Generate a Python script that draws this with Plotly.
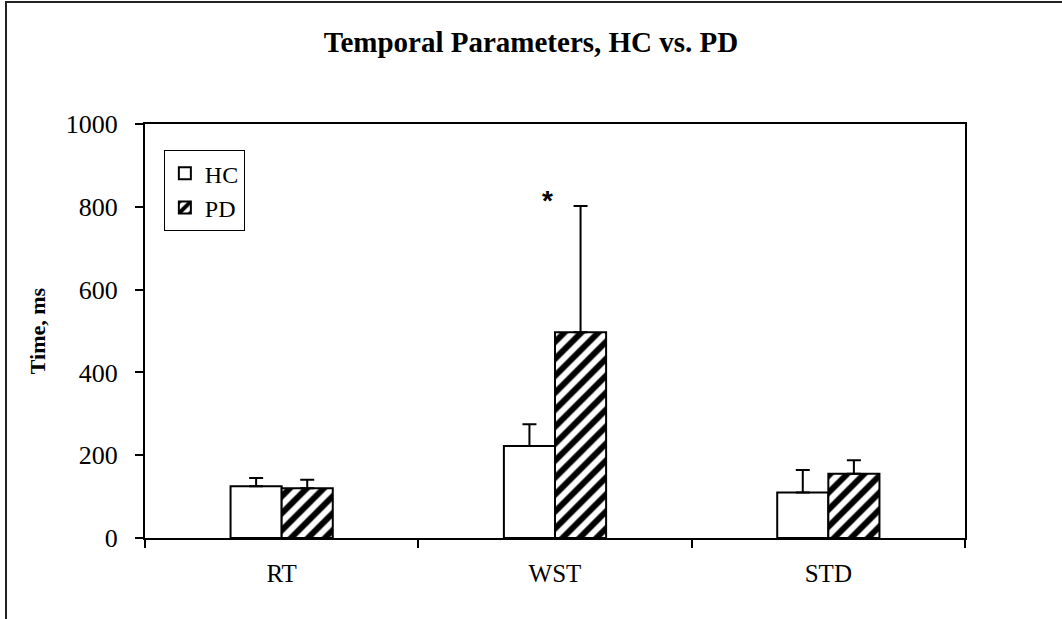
import plotly.graph_objects as go

categories = ["RT", "WST", "STD"]
hc_values = [125, 222, 110]
hc_errors = [20, 53, 54]
pd_values = [120, 497, 155]
pd_errors = [21, 305, 33]
y_ticks = [0, 200, 400, 600, 800, 1000]

SERIF = "Liberation Serif, Times New Roman, serif"

fig = go.Figure()
fig.add_trace(go.Bar(
    name="HC", x=categories, y=hc_values,
    marker=dict(color="white", line=dict(color="black", width=2)),
    error_y=dict(type="data", symmetric=False, array=hc_errors,
                 arrayminus=[0] * len(hc_errors), color="black",
                 thickness=2, width=7),
))
fig.add_trace(go.Bar(
    name="PD", x=categories, y=pd_values,
    marker=dict(color="white", line=dict(color="black", width=2),
                pattern=dict(shape="/", fgcolor="black", bgcolor="white",
                             fgopacity=1, size=12, solidity=0.5)),
    error_y=dict(type="data", symmetric=False, array=pd_errors,
                 arrayminus=[0] * len(pd_errors), color="black",
                 thickness=2, width=7),
))

fig.add_annotation(x="WST", y=824, text="<b>*</b>", showarrow=False,
                   xshift=-8, yshift=-4, yanchor="middle",
                   font=dict(family="Liberation Sans, Arial", size=28, color="black"))

# outer chart frame
fig.add_shape(type="rect", xref="paper", yref="paper",
              x0=-0.1695, x1=1.3, y0=-0.4, y1=1.2947,
              line=dict(color="#222", width=2), fillcolor="rgba(0,0,0,0)",
              layer="below")

fig.update_layout(
    width=1062, height=619,
    margin=dict(l=145, r=97, t=124, b=81),
    paper_bgcolor="white", plot_bgcolor="white",
    barmode="group", bargap=0.626, bargroupgap=0,
    title=dict(text="<b>Temporal Parameters, HC vs. PD</b>",
               x=0.5, xanchor="center", y=0.932, yanchor="middle",
               font=dict(family=SERIF, size=29, color="black")),
    font=dict(family=SERIF, color="black"),
    showlegend=True,
    legend=dict(x=0.023, y=0.937, xanchor="left", yanchor="top",
                bordercolor="black", borderwidth=1, bgcolor="white",
                font=dict(family=SERIF, size=24, color="black"),
                itemwidth=30, traceorder="normal"),
    xaxis=dict(showline=True, linecolor="black", linewidth=2, mirror=True,
               ticks="outside", tickson="boundaries", ticklen=8,
               tickcolor="black", tickwidth=1.5,
               tickfont=dict(family=SERIF, size=25, color="black"),
               ticklabelstandoff=12, showgrid=False, zeroline=False),
    yaxis=dict(range=[0, 1000], tickvals=y_ticks, showline=True,
               linecolor="black", linewidth=2, mirror=True,
               ticks="outside", ticklen=8, tickcolor="black", tickwidth=1.5,
               tickfont=dict(family=SERIF, size=26, color="black"),
               ticklabelstandoff=12, showgrid=False, zeroline=False,
               title=dict(text="<b>Time, ms</b>", standoff=14,
                          font=dict(family=SERIF, size=22, color="black"))),
)

fig.write_html("out.html")
